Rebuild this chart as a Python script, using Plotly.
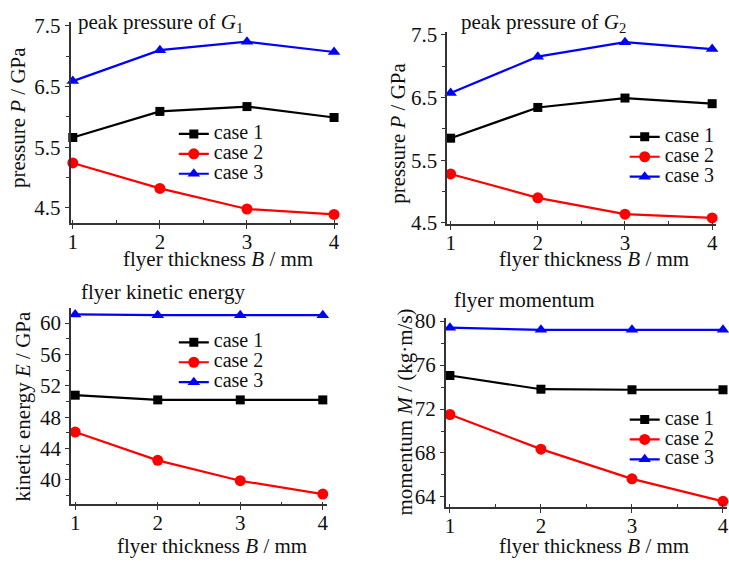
import plotly.graph_objects as go

# flyer thickness (mm)
thickness = [1, 2, 3, 4]
case_names = ["case 1", "case 2", "case 3"]

# peak pressure of G1 (GPa)
g1_case1 = [5.66, 6.09, 6.17, 5.99]
g1_case2 = [5.24, 4.82, 4.48, 4.39]
g1_case3 = [6.59, 7.10, 7.24, 7.07]

# peak pressure of G2 (GPa)
g2_case1 = [5.85, 6.34, 6.49, 6.40]
g2_case2 = [5.28, 4.90, 4.64, 4.58]
g2_case3 = [6.57, 7.15, 7.38, 7.27]

# flyer kinetic energy
ke_case1 = [50.8, 50.2, 50.2, 50.2]
ke_case2 = [46.1, 42.5, 39.9, 38.2]
ke_case3 = [61.1, 61.0, 61.0, 61.0]

# flyer momentum (kg·m/s)
mo_case1 = [75.05, 73.8, 73.75, 73.75]
mo_case2 = [71.5, 68.35, 65.65, 63.6]
mo_case3 = [79.4, 79.2, 79.2, 79.2]

W, H = 729, 569
FONT = "Liberation Serif, Times New Roman, serif"
TXT = "#111111"
AX = "#333333"
colors = ["#000000", "#ff0000", "#0000ff"]
symbols = ["square", "circle", "triangle-up"]
msizes = [9, 11, 11]

panels = [
    dict(data=[g1_case1, g1_case2, g1_case3], xpx=(68, 337.3), ypx=(13.3, 222),
         xr=[0.974, 4.045], yr=[4.246, 7.568], tick0=4.5, dtick=1, minor=0.5,
         title="peak pressure of <i>G</i><sub>1</sub>", tpos=(74, 15),
         ytitle="pressure <i>P</i> / GPa", ytpos=(15, 112),
         xtpos=(216, 259), leg=(172, 114)),
    dict(data=[g2_case1, g2_case2, g2_case3], xpx=(447.3, 718), ypx=(24, 223),
         xr=[0.961, 4.045], yr=[4.48, 7.54], tick0=4.5, dtick=1, minor=0.5,
         title="peak pressure of <i>G</i><sub>2</sub>", tpos=(459, 15),
         ytitle="pressure <i>P</i> / GPa", ytpos=(398, 129),
         xtpos=(595, 259), leg=(626, 117)),
    dict(data=[ke_case1, ke_case2, ke_case3], xpx=(68.3, 326), ypx=(310, 513.3),
         xr=[0.947, 4.048], yr=[36.9, 61.9], tick0=40, dtick=4, minor=2,
         title="flyer kinetic energy", tpos=(77, 293),
         ytitle="kinetic energy <i>E</i> / GPa", ytpos=(20, 412),
         xtpos=(210, 557), leg=(172, 330)),
    dict(data=[mo_case1, mo_case2, mo_case3], xpx=(445.7, 729), ypx=(320, 516),
         xr=[0.953, 4.044], yr=[63.1, 80.3], tick0=64, dtick=4, minor=2,
         title="flyer momentum", tpos=(452, 302),
         ytitle="momentum <i>M</i> / (kg·m/s)", ytpos=(405, 418),
         xtpos=(595, 557), leg=(626, 410)),
]

fig = go.Figure()
annotations = []
layout = {}

for i, p in enumerate(panels):
    n = "" if i == 0 else str(i + 1)
    legname = "legend" + n
    for k in range(3):
        fig.add_trace(go.Scatter(
            x=thickness, y=p["data"][k],
            name='<span style="font-size:20px">' + case_names[k] + "</span>",
            mode="lines+markers", xaxis="x" + n, yaxis="y" + n,
            line=dict(color=colors[k], width=2.2),
            marker=dict(symbol=symbols[k], size=msizes[k], color=colors[k]),
            cliponaxis=False, legend=legname,
        ))
    axis_common = dict(
        showline=True, linecolor=AX, linewidth=1.5, showgrid=False,
        zeroline=False, ticks="outside", ticklen=4, tickwidth=1.2,
        tickcolor=AX, mirror=False,
        tickfont=dict(family=FONT, size=21, color=TXT),
    )
    layout["xaxis" + n] = dict(
        axis_common, domain=[p["xpx"][0] / W, min(p["xpx"][1] / W, 1.0)],
        range=p["xr"], anchor="y" + n, tickmode="linear", tick0=1, dtick=1,
        ticklabelstandoff=-5,
        minor=dict(ticks="inside", ticklen=3, tickcolor=AX, dtick=0.5, tick0=1),
    )
    layout["yaxis" + n] = dict(
        axis_common, domain=[1 - p["ypx"][1] / H, 1 - p["ypx"][0] / H],
        range=p["yr"], anchor="x" + n, tickmode="linear", tick0=p["tick0"],
        dtick=p["dtick"],
        minor=dict(ticks="outside", ticklen=3, tickcolor=AX,
                   dtick=p["minor"], tick0=p["tick0"]),
    )
    # legend font size drives row height; entry text is sized via span
    layout[legname] = dict(
        x=p["leg"][0] / W, y=1 - p["leg"][1] / H, xanchor="left", yanchor="top",
        bgcolor="rgba(0,0,0,0)", font=dict(family=FONT, size=13, color=TXT),
        tracegroupgap=0, itemwidth=30,
    )
    annotations.append(dict(
        text=p["title"], x=p["tpos"][0] / W, y=1 - p["tpos"][1] / H,
        xref="paper", yref="paper", xanchor="left", yanchor="middle",
        showarrow=False, font=dict(family=FONT, size=21, color=TXT),
    ))
    annotations.append(dict(
        text=p["ytitle"], x=p["ytpos"][0] / W, y=1 - p["ytpos"][1] / H,
        xref="paper", yref="paper", xanchor="center", yanchor="middle",
        textangle=-90, showarrow=False,
        font=dict(family=FONT, size=21, color=TXT),
    ))
    annotations.append(dict(
        text="flyer thickness <i>B</i> / mm", x=p["xtpos"][0] / W,
        y=1 - p["xtpos"][1] / H, xref="paper", yref="paper",
        xanchor="center", yanchor="middle", showarrow=False,
        font=dict(family=FONT, size=21, color=TXT),
    ))

fig.update_layout(
    width=W, height=H, margin=dict(l=0, r=0, t=0, b=0),
    paper_bgcolor="white", plot_bgcolor="white",
    font=dict(family=FONT, color=TXT),
    showlegend=True, annotations=annotations, **layout,
)

fig.write_html("out.html")
